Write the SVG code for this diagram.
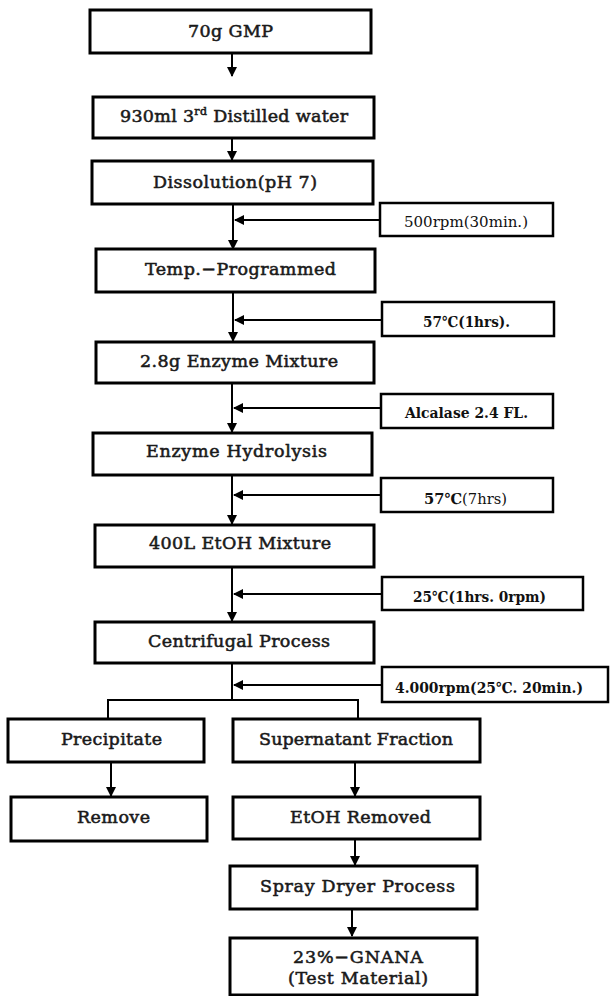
<svg xmlns="http://www.w3.org/2000/svg" width="610" height="996" viewBox="0 0 610 996">
<defs>
<style>
.box{fill:#fff;stroke:#000;stroke-width:3}
.sbox{fill:#fff;stroke:#000;stroke-width:2.5}
.t{font-family:"DejaVu Serif","Liberation Serif",serif;font-size:17.5px;text-anchor:middle;fill:#1a1a1a;stroke:#1a1a1a;stroke-width:0.55}
.s{font-family:"DejaVu Serif","Liberation Serif",serif;font-size:15px;font-weight:bold;text-anchor:middle;fill:#111}
.sn{font-weight:normal}
.ln{stroke:#000;stroke-width:2;fill:none}
</style>
<marker id="ah" markerWidth="10" markerHeight="10" refX="9" refY="5" orient="auto" markerUnits="userSpaceOnUse">
<path d="M0,0 L10,5 L0,10 Z" fill="#000"/>
</marker>
</defs>
<rect width="610" height="996" fill="#fff"/>

<g id="connectors">
<line class="ln" x1="232" y1="53" x2="232" y2="76" marker-end="url(#ah)"/>
<line class="ln" x1="232" y1="138" x2="232" y2="160" marker-end="url(#ah)"/>
<line class="ln" x1="233" y1="204" x2="233" y2="249" marker-end="url(#ah)"/>
<line class="ln" x1="233" y1="292" x2="233" y2="341" marker-end="url(#ah)"/>
<line class="ln" x1="232" y1="383" x2="232" y2="432" marker-end="url(#ah)"/>
<line class="ln" x1="232" y1="475" x2="232" y2="524" marker-end="url(#ah)"/>
<line class="ln" x1="232" y1="567" x2="232" y2="621" marker-end="url(#ah)"/>
<line class="ln" x1="232" y1="663" x2="232" y2="700"/>
<polyline class="ln" points="108,719 108,700 358,700 358,719"/>
<line class="ln" x1="111" y1="762" x2="111" y2="796" marker-end="url(#ah)"/>
<line class="ln" x1="355" y1="762" x2="355" y2="796" marker-end="url(#ah)"/>
<line class="ln" x1="355" y1="840" x2="355" y2="865" marker-end="url(#ah)"/>
<line class="ln" x1="352" y1="909" x2="352" y2="936" marker-end="url(#ah)"/>
<line class="ln" x1="380" y1="220" x2="235" y2="220" marker-end="url(#ah)"/>
<line class="ln" x1="382" y1="320" x2="235" y2="320" marker-end="url(#ah)"/>
<line class="ln" x1="381" y1="408" x2="234" y2="408" marker-end="url(#ah)"/>
<line class="ln" x1="381" y1="495" x2="234" y2="495" marker-end="url(#ah)"/>
<line class="ln" x1="382" y1="594" x2="234" y2="594" marker-end="url(#ah)"/>
<line class="ln" x1="382" y1="685" x2="234" y2="685" marker-end="url(#ah)"/>
</g>

<g id="n1"><rect class="box" x="90" y="10" width="281" height="43"/><text class="t" x="230.5" y="37" textLength="85">70g GMP</text></g>
<g id="n2"><rect class="box" x="93" y="97" width="281" height="41"/><text class="t" x="234" y="122" textLength="228">930ml 3<tspan font-size="11" dy="-7">rd</tspan><tspan dy="7"> Distilled water</tspan></text></g>
<g id="n3"><rect class="box" x="92" y="161" width="281" height="43"/><text class="t" x="235" y="188" textLength="164">Dissolution(pH 7)</text></g>
<g id="n4"><rect class="box" x="96" y="249" width="279" height="43"/><text class="t" x="240.5" y="275" textLength="191">Temp.−Programmed</text></g>
<g id="n5"><rect class="box" x="96" y="342" width="278" height="41"/><text class="t" x="239" y="367" textLength="198">2.8g Enzyme Mixture</text></g>
<g id="n6"><rect class="box" x="93" y="433" width="279" height="42"/><text class="t" x="236.5" y="457" textLength="181">Enzyme Hydrolysis</text></g>
<g id="n7"><rect class="box" x="95" y="525" width="279" height="42"/><text class="t" x="240" y="549" textLength="182">400L EtOH Mixture</text></g>
<g id="n8"><rect class="box" x="95" y="622" width="279" height="41"/><text class="t" x="239" y="647" textLength="182">Centrifugal Process</text></g>

<g id="s1"><rect class="sbox" x="380" y="203" width="173" height="33"/><text class="s sn" x="466" y="227" textLength="124" lengthAdjust="spacingAndGlyphs">500rpm(30min.)</text></g>
<g id="s2"><rect class="sbox" x="382" y="302" width="172" height="34"/><text class="s" x="466.5" y="327" textLength="87" lengthAdjust="spacingAndGlyphs">57℃(1hrs).</text></g>
<g id="s3"><rect class="sbox" x="381" y="394" width="172" height="34"/><text class="s" x="466.5" y="418" textLength="123" lengthAdjust="spacingAndGlyphs">Alcalase 2.4 FL.</text></g>
<g id="s4"><rect class="sbox" x="381" y="478" width="172" height="34"/><text class="s" x="465.5" y="504" textLength="83" lengthAdjust="spacingAndGlyphs">57℃<tspan class="sn">(7hrs)</tspan></text></g>
<g id="s5"><rect class="sbox" x="382" y="577" width="201" height="33"/><text class="s" x="479.5" y="602" textLength="133" lengthAdjust="spacingAndGlyphs">25℃(1hrs. 0rpm)</text></g>
<g id="s6"><rect class="sbox" x="382" y="667" width="226" height="35"/><text class="s" x="489" y="693" textLength="188" lengthAdjust="spacingAndGlyphs">4.000rpm(25℃. 20min.)</text></g>

<g id="n9"><rect class="box" x="8" y="719" width="196" height="43"/><text class="t" x="111.5" y="745" textLength="101">Precipitate</text></g>
<g id="n10"><rect class="box" x="233" y="719" width="247" height="43"/><text class="t" x="356" y="745" textLength="194">Supernatant Fraction</text></g>
<g id="n11"><rect class="box" x="11" y="797" width="196" height="44"/><text class="t" x="113.5" y="823" textLength="73">Remove</text></g>
<g id="n12"><rect class="box" x="233" y="797" width="247" height="42"/><text class="t" x="360.5" y="823" textLength="141">EtOH Removed</text></g>
<g id="n13"><rect class="box" x="230" y="866" width="247" height="43"/><text class="t" x="357.5" y="892" textLength="195">Spray Dryer Process</text></g>
<g id="n14"><rect class="box" x="230" y="938" width="247" height="57"/><text class="t" x="358" y="963" textLength="130">23%−GNANA</text><text class="t" x="358" y="984" textLength="140">(Test Material)</text></g>
</svg>
